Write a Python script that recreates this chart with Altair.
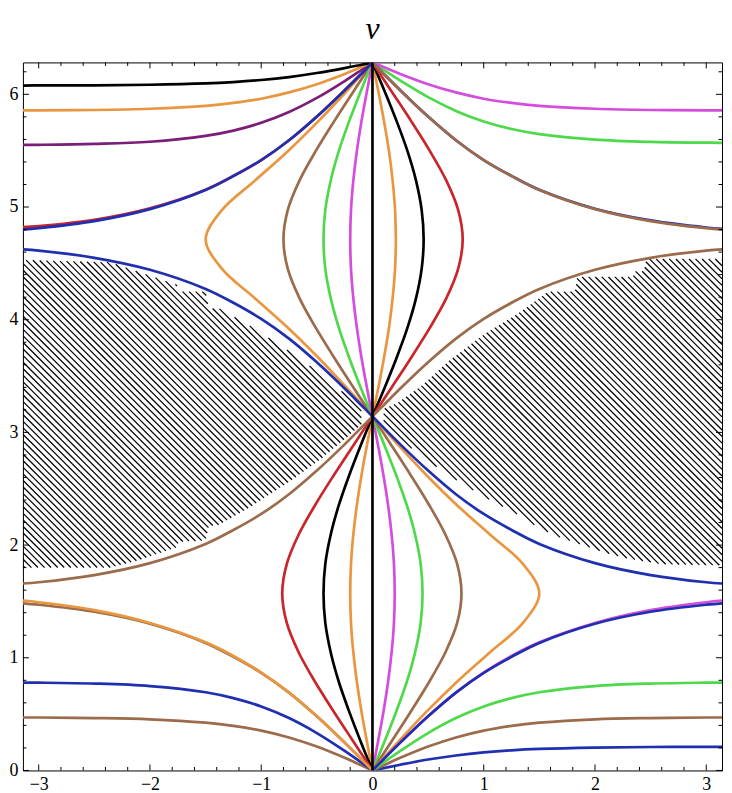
import numpy as np
import pandas as pd
import altair as alt

PI = 3.14159
W, H = 702, 711

# ---------------- axis ticks ----------------
X_TICKS = [-3, -2, -1, 0, 1, 2, 3]
Y_TICKS = [0, 1, 2, 3, 4, 5, 6]
X_MINOR = [round(v, 1) for v in np.arange(-3.0, 3.01, 0.2) if abs(v - round(v)) > 1e-6]
Y_MINOR = [round(v, 1) for v in np.arange(0.2, 6.21, 0.2) if abs(v - round(v)) > 1e-6]
TITLE = "v"

# ---------------- colours ----------------
BLACK = "#000000"
ORANGE = "#E8963F"
PURPLE = "#7A1E78"
BLUE = "#1F2FB0"
RED = "#C9252B"
MAGENTA = "#D44DDC"
GREEN = "#4ED94A"
BROWN = "#9B6B4B"

# ---------------- closed "lens" curves (x read at these y levels) ----------------
Y_UP = [3.142, 3.403, 3.665, 3.927, 4.189, 4.451, 4.712, 4.974, 5.236, 5.498, 5.760, 6.021, 6.283]
Y_LO = [0.000, 0.262, 0.524, 0.785, 1.047, 1.309, 1.571, 1.833, 2.094, 2.356, 2.618, 2.880, 3.142]

lens_ul_orange = [0, -.239, -.488, -.758, -1.055, -1.352, -1.499, -1.352, -1.055, -.758, -.488, -.239, 0]
lens_ul_brown = [0, -.174, -.345, -.509, -.655, -.761, -.800, -.761, -.655, -.509, -.345, -.174, 0]
lens_ul_green = [0, -.108, -.210, -.302, -.375, -.424, -.440, -.424, -.375, -.302, -.210, -.108, 0]
lens_ul_magenta = [0, -.051, -.099, -.140, -.172, -.193, -.200, -.193, -.172, -.140, -.099, -.051, 0]
lens_ur_orange = [0, .054, .104, .148, .181, .203, .210, .203, .181, .148, .104, .054, 0]
lens_ur_black = [0, .112, .218, .314, .391, .442, .460, .442, .391, .314, .218, .112, 0]
lens_ur_red = [0, .175, .349, .515, .663, .770, .811, .770, .663, .515, .349, .175, 0]

lens_ll_orange = [0, -.051, -.099, -.140, -.172, -.193, -.200, -.193, -.172, -.140, -.099, -.051, 0]
lens_ll_black = [0, -.108, -.210, -.302, -.375, -.424, -.440, -.424, -.375, -.302, -.210, -.108, 0]
lens_ll_red = [0, -.175, -.349, -.515, -.663, -.770, -.811, -.770, -.663, -.515, -.349, -.175, 0]
lens_lr_magenta = [0, .051, .099, .140, .172, .193, .200, .193, .172, .140, .099, .051, 0]
lens_lr_green = [0, .110, .214, .308, .383, .433, .450, .433, .383, .308, .214, .110, 0]
lens_lr_brown = [0, .174, .345, .509, .655, .761, .800, .761, .655, .509, .345, .174, 0]
lens_lr_orange = [0, .239, .488, .758, 1.055, 1.352, 1.499, 1.352, 1.055, .758, .488, .239, 0]

# ---------------- open curves (y read at these |x| positions) ----------------
X_OPEN = [0, 0.1, 0.25, 0.5, 0.75, 1.0, 1.25, 1.5, 2.0, 2.5, 3.0, 3.142]

ul_black = [6.283, 6.263, 6.233, 6.189, 6.153, 6.127, 6.109, 6.097, 6.085, 6.080, 6.079, 6.078]
ul_orange = [6.283, 6.242, 6.181, 6.090, 6.017, 5.961, 5.924, 5.898, 5.872, 5.861, 5.858, 5.857]
ul_purple = [6.283, 6.216, 6.118, 5.968, 5.843, 5.747, 5.678, 5.631, 5.579, 5.560, 5.552, 5.551]
ul_red = [6.283, 6.183, 6.036, 5.802, 5.592, 5.416, 5.276, 5.154, 4.989, 4.887, 4.831, 4.822]
ul_blue = [6.283, 6.183, 6.036, 5.803, 5.593, 5.417, 5.275, 5.151, 4.981, 4.875, 4.812, 4.800]
ul_blue_low = [3.142, 3.241, 3.389, 3.622, 3.832, 4.007, 4.150, 4.273, 4.443, 4.549, 4.613, 4.624]

ur_magenta = [6.283, 6.242, 6.181, 6.090, 6.017, 5.961, 5.924, 5.898, 5.872, 5.861, 5.858, 5.857]
ur_green = [6.283, 6.218, 6.122, 5.975, 5.853, 5.759, 5.692, 5.647, 5.598, 5.578, 5.571, 5.570]
ur_blue = [6.283, 6.183, 6.036, 5.803, 5.593, 5.417, 5.276, 5.153, 4.985, 4.881, 4.818, 4.806]
ur_brown = [6.283, 6.183, 6.036, 5.803, 5.593, 5.417, 5.275, 5.151, 4.981, 4.875, 4.812, 4.800]
ur_brown_low = [3.142, 3.241, 3.389, 3.622, 3.832, 4.007, 4.150, 4.273, 4.443, 4.549, 4.613, 4.624]

ll_brown = [0, .045, .112, .212, .293, .354, .396, .424, .454, .465, .470, .470]
ll_blue = [0, .071, .174, .332, .465, .568, .642, .694, .749, .771, .779, .780]
ll_orange = [0, .100, .247, .481, .691, .869, 1.016, 1.137, 1.309, 1.423, 1.493, 1.508]
ll_brown_sep = [0, .100, .247, .480, .691, .866, 1.008, 1.132, 1.302, 1.408, 1.471, 1.483]
ll_brown_up = [3.142, 3.042, 2.894, 2.661, 2.451, 2.276, 2.134, 2.010, 1.840, 1.734, 1.670, 1.659]

lr_blue = [0, .021, .051, .097, .133, .160, .179, .191, .203, .208, .210, .210]
lr_brown = [0, .045, .112, .212, .293, .354, .396, .424, .454, .465, .470, .470]
lr_green = [0, .071, .174, .332, .465, .568, .642, .694, .749, .771, .779, .780]
lr_magenta = [0, .100, .247, .481, .691, .869, 1.016, 1.137, 1.309, 1.423, 1.493, 1.508]
lr_blue_sep = [0, .100, .247, .480, .691, .866, 1.008, 1.132, 1.302, 1.408, 1.471, 1.483]
lr_blue_up = [3.142, 3.042, 2.894, 2.661, 2.451, 2.276, 2.134, 2.010, 1.840, 1.734, 1.670, 1.659]

# ---------------- hatched (excluded) regions: boundary points ----------------
LH_TOP = [(-3.142, 4.53), (-2.36, 4.51), (-2.12, 4.43), (-1.76, 4.31), (-1.74, 4.25), (-1.50, 4.25),
          (-1.47, 4.10), (-1.38, 4.10), (-1.11, 3.95), (-0.75, 3.72), (-0.48, 3.53), (-0.26, 3.35), (-0.10, 3.21)]
LH_BOT = [(-3.142, 1.80), (-2.36, 1.80), (-2.12, 1.86), (-1.76, 1.98), (-1.74, 2.03), (-1.50, 2.04),
          (-1.47, 2.17), (-1.38, 2.18), (-1.11, 2.33), (-0.75, 2.56), (-0.48, 2.75), (-0.26, 2.93), (-0.10, 3.07)]
RH_TOP = [(0.10, 3.21), (0.22, 3.26), (0.45, 3.42), (0.68, 3.63), (1.0, 3.87), (1.3, 4.05), (1.58, 4.25),
          (1.82, 4.25), (1.84, 4.38), (2.34, 4.38), (2.36, 4.43), (2.44, 4.43), (2.46, 4.54), (3.142, 4.54)]
RH_BOT = [(0.10, 3.07), (0.26, 2.93), (0.48, 2.76), (0.75, 2.58), (1.02, 2.42), (1.29, 2.28), (1.47, 2.17),
          (1.65, 2.08), (1.80, 2.03), (1.95, 1.98), (2.10, 1.93), (2.30, 1.88), (2.60, 1.83), (3.142, 1.82)]

# ---------------- build tables ----------------
rows = []


def add(name, color, xs, ys):
    for i, (xv, yv) in enumerate(zip(xs, ys)):
        rows.append({"name": name, "color": color, "order": i, "x": xv, "y": yv})


for nm, col, xs in [("lul_o", ORANGE, lens_ul_orange), ("lul_b", BROWN, lens_ul_brown),
                    ("lul_g", GREEN, lens_ul_green), ("lul_m", MAGENTA, lens_ul_magenta),
                    ("lur_o", ORANGE, lens_ur_orange), ("lur_k", BLACK, lens_ur_black),
                    ("lur_r", RED, lens_ur_red)]:
    add(nm, col, xs, Y_UP)
for nm, col, xs in [("lll_o", ORANGE, lens_ll_orange), ("lll_k", BLACK, lens_ll_black),
                    ("lll_r", RED, lens_ll_red), ("llr_m", MAGENTA, lens_lr_magenta),
                    ("llr_g", GREEN, lens_lr_green), ("llr_b", BROWN, lens_lr_brown),
                    ("llr_o", ORANGE, lens_lr_orange)]:
    add(nm, col, xs, Y_LO)

neg = [-v for v in X_OPEN]
for nm, col, ys in [("ul_bl", BLUE, ul_blue_low), ("ul_p", PURPLE, ul_purple), ("ul_o", ORANGE, ul_orange),
                    ("ul_k", BLACK, ul_black), ("ul_r", RED, ul_red), ("ul_b", BLUE, ul_blue),
                    ("ll_bu", BROWN, ll_brown_up), ("ll_br", BROWN, ll_brown), ("ll_bl", BLUE, ll_blue),
                    ("ll_bs", BROWN, ll_brown_sep), ("ll_o", ORANGE, ll_orange)]:
    add(nm, col, neg, ys)
for nm, col, ys in [("ur_bl", BROWN, ur_brown_low), ("ur_g", GREEN, ur_green), ("ur_m", MAGENTA, ur_magenta),
                    ("ur_bb", BLUE, ur_blue), ("ur_b", BROWN, ur_brown),
                    ("lr_bu", BLUE, lr_blue_up), ("lr_bl", BLUE, lr_blue), ("lr_br", BROWN, lr_brown),
                    ("lr_g", GREEN, lr_green), ("lr_m", MAGENTA, lr_magenta), ("lr_bs", BLUE, lr_blue_sep)]:
    add(nm, col, X_OPEN, ys)
add("vert", BLACK, [0, 0], [0, 6.283])
curves = pd.DataFrame(rows)


def hatch(top_pts, bot_pts, spacing=6.6 / 113.2, r=111.7 / 113.2):
    tx, ty = zip(*top_pts)
    bx, by = zip(*bot_pts)
    lo, hi = max(min(tx), min(bx)), min(max(tx), max(bx))
    xs = np.linspace(lo, hi, 2500)
    top = np.interp(xs, tx, ty)
    bot = np.interp(xs, bx, by)
    bmin = (bot + r * xs).min()
    bmax = (top + r * xs).max()
    segs = []
    for k in range(int(np.floor(bmin / spacing)), int(np.ceil(bmax / spacing)) + 1):
        b = k * spacing
        y = b - r * xs
        inside = ((y < top) & (y > bot)).astype(int)
        edges = np.flatnonzero(np.diff(np.concatenate([[0], inside, [0]])))
        for s, e in zip(edges[::2], edges[1::2]):
            if e - s > 2:
                segs.append({"x": xs[s], "y": y[s], "x2": xs[e - 1], "y2": y[e - 1]})
    return segs


hatch_df = pd.DataFrame(hatch(LH_TOP, LH_BOT) + hatch(RH_TOP, RH_BOT))

# ---------------- chart ----------------
xs_scale = alt.Scale(domain=[-PI, PI], nice=False, zero=False)
ys_scale = alt.Scale(domain=[0, 2 * PI], nice=False, zero=False)
X = alt.X("x:Q", scale=xs_scale, title=None,
          axis=alt.Axis(values=X_TICKS, labelPadding=5, format="d"))
Y = alt.Y("y:Q", scale=ys_scale, title=None,
          axis=alt.Axis(values=Y_TICKS, labelPadding=5, format="d"))

hatch_layer = alt.Chart(hatch_df).mark_rule(color="black", strokeWidth=1.25, clip=True).encode(
    x=X, y=Y, x2="x2:Q", y2="y2:Q")

lines = alt.Chart(curves).mark_line(strokeWidth=2.7, clip=True, interpolate="catmull-rom").encode(
    x=X, y=Y, detail="name:N", order="order:Q", color=alt.Color("color:N", scale=None))

xt_major = pd.DataFrame({"x": X_TICKS})
xt_minor = pd.DataFrame({"x": X_MINOR})
yt_major = pd.DataFrame({"y": Y_TICKS})
yt_minor = pd.DataFrame({"y": Y_MINOR})


def xticks(df, ln):
    b = alt.Chart(df).mark_rule(color="black", strokeWidth=1)
    return (b.encode(x=X, y=alt.value(H), y2=alt.value(H - ln)) +
            b.encode(x=X, y=alt.value(0), y2=alt.value(ln)))


def yticks(df, ln):
    b = alt.Chart(df).mark_rule(color="black", strokeWidth=1)
    return (b.encode(y=Y, x=alt.value(0), x2=alt.value(ln)) +
            b.encode(y=Y, x=alt.value(W), x2=alt.value(W - ln)))


title_layer = alt.Chart(pd.DataFrame({"t": [TITLE]})).mark_text(
    font="Liberation Serif", fontStyle="italic", fontSize=32, baseline="alphabetic",
    align="center", color="black", clip=False
).encode(text="t:N", x=alt.value(W / 2), y=alt.value(-24))

chart = alt.layer(
    hatch_layer, lines,
    xticks(xt_major, 6), xticks(xt_minor, 3.5),
    yticks(yt_major, 6), yticks(yt_minor, 3.5),
    title_layer,
).properties(
    width=W, height=H,
    autosize=alt.AutoSizeParams(type="none"),
    padding={"left": 15, "top": 53, "right": 2, "bottom": 24},
).configure_view(stroke="black", strokeWidth=1).configure_axis(
    grid=False, domain=False, ticks=False, labelFont="Liberation Serif", labelFontSize=18,
    labelColor="black")

chart.save("out.html", embed_options={"renderer": "svg", "actions": False})
